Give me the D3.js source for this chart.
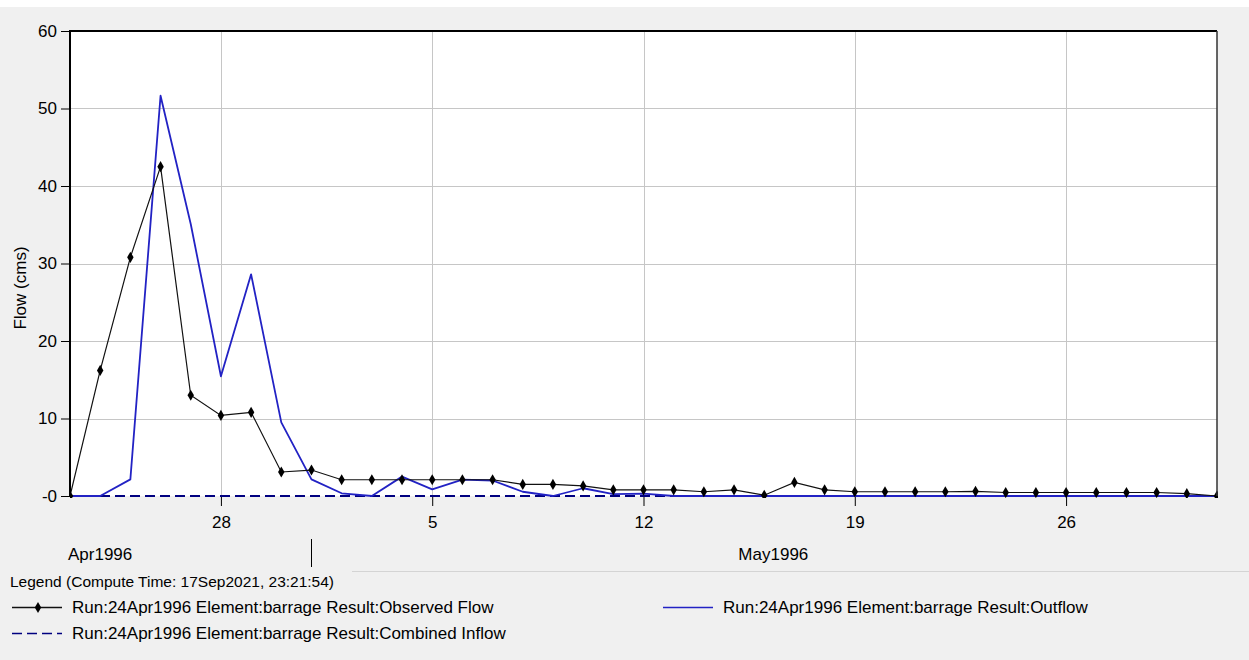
<!DOCTYPE html>
<html>
<head>
<meta charset="utf-8">
<script src="https://cdn.jsdelivr.net/npm/d3@7"></script>
<style>
  html, body { margin: 0; padding: 0; background: #f0f0f0; }
  svg { display: block; font-family: "Liberation Sans", Arial, sans-serif; }
</style>
</head>
<body>
<svg id="chart" width="1249" height="660"></svg>
<script>
// daily values, 23Apr1996 .. 31May1996
const days = [
  "1996-04-23","1996-04-24","1996-04-25","1996-04-26","1996-04-27","1996-04-28","1996-04-29","1996-04-30",
  "1996-05-01","1996-05-02","1996-05-03","1996-05-04","1996-05-05","1996-05-06","1996-05-07","1996-05-08",
  "1996-05-09","1996-05-10","1996-05-11","1996-05-12","1996-05-13","1996-05-14","1996-05-15","1996-05-16",
  "1996-05-17","1996-05-18","1996-05-19","1996-05-20","1996-05-21","1996-05-22","1996-05-23","1996-05-24",
  "1996-05-25","1996-05-26","1996-05-27","1996-05-28","1996-05-29","1996-05-30","1996-05-31"
];
const observedFlow = [
  0, 16.2, 30.8, 42.5, 13.0, 10.4, 10.8, 3.1,
  3.35, 2.1, 2.1, 2.1, 2.1, 2.1, 2.1, 1.5,
  1.5, 1.3, 0.8, 0.8, 0.8, 0.55, 0.8, 0.1,
  1.75, 0.8, 0.55, 0.55, 0.55, 0.55, 0.6, 0.45,
  0.45, 0.45, 0.45, 0.45, 0.45, 0.3, 0
];
const outflow = [
  0, 0, 2.15, 51.65, 35.1, 15.45, 28.6, 9.5,
  2.15, 0.35, 0, 2.5, 0.85, 2.1, 2.0, 0.55,
  0, 1.0, 0.25, 0.3, 0, 0, 0, 0,
  0, 0, 0, 0, 0, 0, 0, 0,
  0, 0, 0, 0, 0, 0, 0
];
const combinedInflow = [
  0, 0, 0, 0, 0, 0, 0, 0,
  0, 0, 0, 0, 0, 0, 0, 0,
  0, 0, 0, 0, 0, 0, 0, 0,
  0, 0, 0, 0, 0, 0, 0, 0,
  0, 0, 0, 0, 0, 0, 0
];
const xTickDays = ["1996-04-28", "1996-05-05", "1996-05-12", "1996-05-19", "1996-05-26"];
const months = [
  { label: "Apr1996", start: "1996-04-01", end: "1996-05-01" },
  { label: "May1996", start: "1996-05-01", end: "1996-06-01" }
];
const yTicks = [0, 10, 20, 30, 40, 50, 60];
const legendTitle = "Legend (Compute Time: 17Sep2021, 23:21:54)";
const seriesNames = [
  "Run:24Apr1996 Element:barrage Result:Observed Flow",
  "Run:24Apr1996 Element:barrage Result:Outflow",
  "Run:24Apr1996 Element:barrage Result:Combined Inflow"
];

(function() {
  const parse = d3.timeParse("%Y-%m-%d");
  const svg = d3.select("#chart");
  const W = 1249, H = 660;
  const m = { left: 70, top: 31, right: 1217, bottom: 496 };

  svg.append("rect").attr("width", W).attr("height", H).attr("fill", "#f0f0f0");
  svg.append("rect").attr("width", W).attr("height", 7).attr("fill", "#ffffff");

  const x = d3.scaleTime()
    .domain([parse("1996-04-23"), parse("1996-05-31")])
    .range([m.left, m.right]);
  const y = d3.scaleLinear().domain([0, 60]).range([m.bottom, m.top]);

  // fondo del área de trazado
  svg.append("rect")
    .attr("x", m.left).attr("y", m.top)
    .attr("width", m.right - m.left).attr("height", m.bottom - m.top)
    .attr("fill", "#ffffff");

  svg.append("clipPath").attr("id", "plot-clip")
    .append("rect")
    .attr("x", m.left).attr("y", m.top - 2)
    .attr("width", m.right - m.left + 1).attr("height", m.bottom - m.top + 4);

  // rejilla
  const grid = svg.append("g").attr("stroke", "#c6c6c6").attr("stroke-width", 1);
  grid.selectAll("line.h").data(yTicks.filter(d => d > 0 && d < 60)).join("line")
    .attr("x1", m.left).attr("x2", m.right)
    .attr("y1", d => Math.round(y(d)) + 0.5).attr("y2", d => Math.round(y(d)) + 0.5);
  grid.selectAll("line.v").data(xTickDays).join("line")
    .attr("x1", d => Math.round(x(parse(d))) + 0.5).attr("x2", d => Math.round(x(parse(d))) + 0.5)
    .attr("y1", m.top).attr("y2", m.bottom);

  // eje y
  const yAxis = d3.axisLeft(y).tickValues(yTicks).tickSize(9).tickPadding(4)
    .tickFormat(d => d === 0 ? "-0" : d);
  const gy = svg.append("g").attr("transform", `translate(${m.left},0)`).call(yAxis);
  gy.select(".domain").remove();
  gy.selectAll(".tick line").attr("stroke", "#000");
  gy.selectAll(".tick text").attr("font-size", 17).attr("fill", "#000")
    .attr("font-family", "Liberation Sans, Arial, sans-serif");

  // eje x
  const xAxis = d3.axisBottom(x).tickValues(xTickDays.map(parse)).tickSize(10).tickPadding(10)
    .tickFormat(d3.timeFormat("%-d"));
  const gx = svg.append("g").attr("transform", `translate(0,${m.bottom})`).call(xAxis);
  gx.select(".domain").remove();
  gx.selectAll(".tick line").attr("stroke", "#000");
  gx.selectAll(".tick text").attr("font-size", 17).attr("fill", "#000")
    .attr("font-family", "Liberation Sans, Arial, sans-serif");

  // fila de meses
  const monthRow = svg.append("g").attr("font-size", 17).attr("fill", "#000");
  months.forEach(function(mo, i) {
    const xs = x(parse(mo.start)), xe = x(parse(mo.end));
    const lo = Math.max(xs, m.left), hi = Math.min(xe, m.right);
    const t = monthRow.append("text").attr("y", 560).text(mo.label);
    const w = t.node().getComputedTextLength();
    let cx = (xs + xe) / 2 - 6;
    if (cx - w / 2 < lo - 2) cx = lo - 2 + w / 2;
    if (cx + w / 2 > hi) cx = hi - w / 2;
    t.attr("x", cx).attr("text-anchor", "middle");
    if (i > 0) {
      svg.append("line").attr("x1", Math.round(xs) + 0.5).attr("x2", Math.round(xs) + 0.5)
        .attr("y1", 539).attr("y2", 567).attr("stroke", "#000");
    }
  });

  // título eje y
  svg.append("text")
    .attr("transform", "translate(26,288) rotate(-90)")
    .attr("text-anchor", "middle").attr("font-size", 17).attr("fill", "#000")
    .text("Flow (cms)");

  // series
  const pts = vals => vals.map((v, i) => [parse(days[i]), v]);
  const line = d3.line().x(d => x(d[0])).y(d => y(d[1]));
  const plot = svg.append("g").attr("clip-path", "url(#plot-clip)");

  plot.append("path").datum(pts(combinedInflow))
    .attr("d", line).attr("fill", "none")
    .attr("stroke", "#000080").attr("stroke-width", 2).attr("stroke-dasharray", "10,5");
  plot.append("path").datum(pts(outflow))
    .attr("d", line).attr("fill", "none")
    .attr("stroke", "#2222c4").attr("stroke-width", 1.8).attr("stroke-linejoin", "round");
  plot.append("path").datum(pts(observedFlow))
    .attr("d", line).attr("fill", "none")
    .attr("stroke", "#111").attr("stroke-width", 1.2);
  const diamond = d3.symbol().type(d3.symbolDiamond).size(36);
  plot.selectAll("path.obs").data(pts(observedFlow)).join("path")
    .attr("class", "obs")
    .attr("d", diamond)
    .attr("transform", d => `translate(${x(d[0])},${y(d[1])})`)
    .attr("fill", "#000");

  // marco
  svg.append("line").attr("x1", m.left).attr("x2", m.left).attr("y1", m.top - 1).attr("y2", m.bottom)
    .attr("stroke", "#000").attr("stroke-width", 2);
  svg.append("line").attr("x1", m.left).attr("x2", m.right).attr("y1", m.top).attr("y2", m.top)
    .attr("stroke", "#000").attr("stroke-width", 2);
  svg.append("line").attr("x1", m.right).attr("x2", m.right).attr("y1", m.top).attr("y2", m.bottom)
    .attr("stroke", "#333").attr("stroke-width", 1.5);

  // leyenda
  const lg = svg.append("g").attr("fill", "#000");
  lg.append("text").attr("x", 10).attr("y", 587).attr("font-size", 15.5).text(legendTitle);
  lg.append("line").attr("x1", 352).attr("x2", W).attr("y1", 571.5).attr("y2", 571.5)
    .attr("stroke", "#d4d4d4");

  const rows = [
    { name: seriesNames[0], x: 12, y: 607, stroke: "#111", dash: null, marker: true },
    { name: seriesNames[1], x: 663, y: 607, stroke: "#2222c4", dash: null, marker: false },
    { name: seriesNames[2], x: 12, y: 633, stroke: "#000080", dash: "10,5", marker: false }
  ];
  rows.forEach(function(r) {
    lg.append("line").attr("x1", r.x).attr("x2", r.x + 50).attr("y1", r.y + 0.5).attr("y2", r.y + 0.5)
      .attr("stroke", r.stroke).attr("stroke-width", r.dash ? 1.6 : 1.3)
      .attr("stroke-dasharray", r.dash);
    if (r.marker) {
      lg.append("path").attr("d", diamond).attr("transform", `translate(${r.x + 26},${r.y + 0.5})`)
        .attr("fill", "#000");
    }
    lg.append("text").attr("x", r.x + 60).attr("y", r.y + 6).attr("font-size", 17).text(r.name);
  });
})();
</script>
</body>
</html>
